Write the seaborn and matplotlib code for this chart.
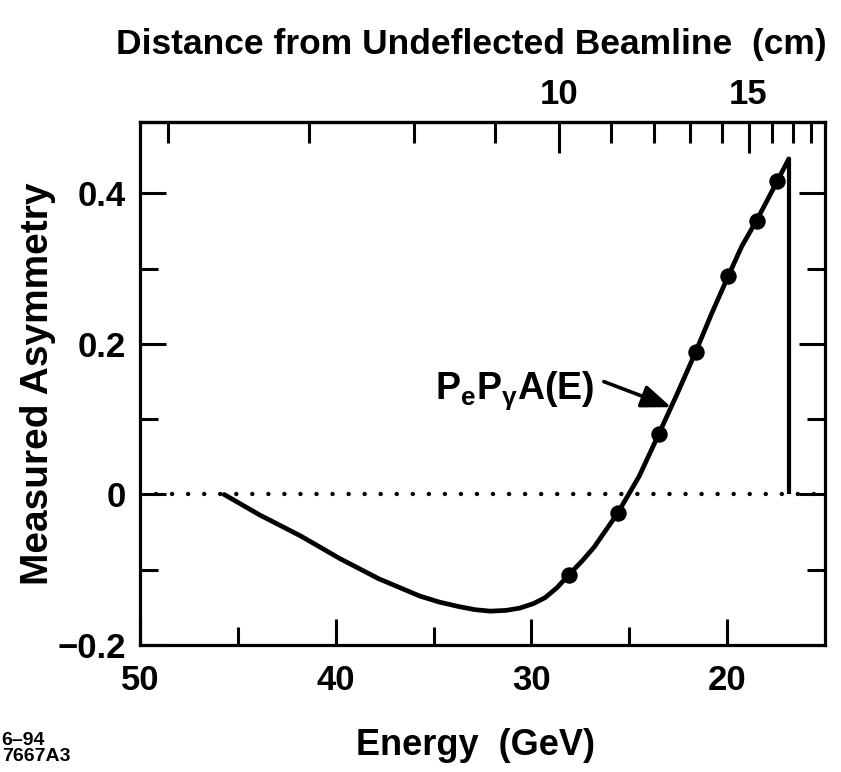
import numpy as np
import pandas as pd
import matplotlib.pyplot as plt
import matplotlib.ticker as mticker
import seaborn as sns

# Values
curve_energy = [45.7, 43.9, 41.8, 39.8, 37.8, 35.7, 34.7, 33.7, 32.9, 32.1, 31.3,
                30.6, 29.9, 29.3, 28.7, 28.1, 27.4, 26.8, 25.6, 24.5, 23.5, 22.55,
                21.6, 20.8, 19.95, 19.25, 18.5, 17.95, 17.45, 17.05, 16.85]
curve_asym = [0.0, -0.027, -0.055, -0.085, -0.112, -0.135, -0.143, -0.149, -0.153,
              -0.155, -0.154, -0.151, -0.145, -0.137, -0.124, -0.107, -0.088,
              -0.070, -0.025, 0.024, 0.080, 0.134, 0.190, 0.240, 0.290, 0.330,
              0.364, 0.391, 0.416, 0.436, 0.446]

point_energy = [28.1, 25.6, 23.5, 21.6, 19.95, 18.5, 17.45]
point_asym = [-0.107, -0.025, 0.080, 0.190, 0.290, 0.364, 0.416]

edge_energy = 16.85
edge_asym = 0.446

x_major = [50, 40, 30, 20]
x_minor = [45, 35, 25]
y_major = [-0.2, 0, 0.2, 0.4]
y_tick_labels = ['\u22120.2', '0', '0.2', '0.4']
y_minor = [-0.1, 0.1, 0.3]

cm_major = [10, 15]
cm_minor = [6, 7, 8, 9, 11, 12, 13, 14, 16, 17, 18]

# distance (cm) = K / E + B, fitted to the top axis tick positions
K_CM = 278.7
B_CM = 0.26


def e_to_cm(e):
    e = np.asarray(e, dtype=float)
    with np.errstate(divide='ignore', invalid='ignore'):
        return K_CM / e + B_CM


def cm_to_e(d):
    d = np.asarray(d, dtype=float)
    with np.errstate(divide='ignore', invalid='ignore'):
        return K_CM / (d - B_CM)


curve_df = pd.DataFrame({'energy': curve_energy, 'asym': curve_asym})
points_df = pd.DataFrame({'energy': point_energy, 'asym': point_asym})

sns.set_style('ticks')
plt.rcParams['font.family'] = ['Liberation Sans', 'DejaVu Sans']
plt.rcParams['font.weight'] = 'bold'
plt.rcParams['axes.labelweight'] = 'bold'
plt.rcParams['mathtext.fontset'] = 'custom'
plt.rcParams['mathtext.rm'] = 'Liberation Sans:bold'
plt.rcParams['mathtext.it'] = 'Liberation Sans:bold'
plt.rcParams['axes.linewidth'] = 2.3
for key in ['text.color', 'axes.labelcolor', 'xtick.color', 'ytick.color',
            'axes.edgecolor']:
    plt.rcParams[key] = 'black'

fig = plt.figure(figsize=(8.41, 7.72), dpi=100)
ax = fig.add_axes([0.1665, 0.1645, 0.8145, 0.6775])

# zero line
ax.axhline(0, color='black', lw=3.2, linestyle=(0, (0.01, 3.6)),
           dash_capstyle='round', zorder=1)

sns.lineplot(data=curve_df, x='energy', y='asym', sort=False, color='black',
             lw=3.4, ax=ax, zorder=3)
ax.vlines(edge_energy, 0, edge_asym, color='black', lw=3.0, zorder=3)
sns.scatterplot(data=points_df, x='energy', y='asym', color='black', s=140,
                edgecolor='black', linewidth=0, ax=ax, zorder=4)

ax.set_xlim(50, 15)
ax.set_ylim(-0.2, 0.495)

ax.set_xticks(x_major)
ax.set_xticks(x_minor, minor=True)
ax.set_yticks(y_major)
ax.set_yticklabels(y_tick_labels)
ax.set_yticks(y_minor, minor=True)

ax.tick_params(axis='both', which='both', direction='in', width=2.2,
               labelsize=25, top=False, right=True)
ax.tick_params(axis='both', which='major', length=19)
ax.tick_params(axis='both', which='minor', length=13)
ax.tick_params(axis='x', which='major', pad=14)
ax.tick_params(axis='y', which='major', pad=10)

ax.set_xlabel('Energy  (GeV)', fontsize=26, labelpad=22)
ax.xaxis.label.set_x(0.49)
ax.set_ylabel('Measured Asymmetry', fontsize=28, labelpad=1)

secax = ax.secondary_xaxis('top', functions=(e_to_cm, cm_to_e))
secax.xaxis.set_major_locator(mticker.FixedLocator(cm_major))
secax.xaxis.set_minor_locator(mticker.FixedLocator(cm_minor))
secax.xaxis.set_major_formatter(mticker.FormatStrFormatter('%d'))
secax.tick_params(axis='x', which='both', direction='in', width=2.2,
                  labelsize=25)
secax.tick_params(axis='x', which='major', length=22, pad=8)
secax.tick_params(axis='x', which='minor', length=15)
secax.spines['top'].set_linewidth(2.3)
secax.set_xlabel('Distance from Undeflected Beamline  (cm)', fontsize=25.5,
                 labelpad=17, fontweight='bold')
secax.xaxis.label.set_x(0.483)

ax.text(26.8, 0.138, r'P$_{\rm e}$P$_{\gamma}$A(E)', fontsize=27,
        ha='right', va='center')
ax.annotate('', xy=(22.86, 0.116), xytext=(26.3, 0.150),
            arrowprops=dict(arrowstyle='-|>,head_length=0.9,head_width=0.35',
                            color='black', lw=2.6, mutation_scale=20,
                            shrinkA=0, shrinkB=0))

fig.text(0.002, 0.030, '6\u201394\n7667A3', fontsize=14, fontweight='bold',
         ha='left', va='center', linespacing=0.9)

fig.savefig('out.png', dpi=100)
